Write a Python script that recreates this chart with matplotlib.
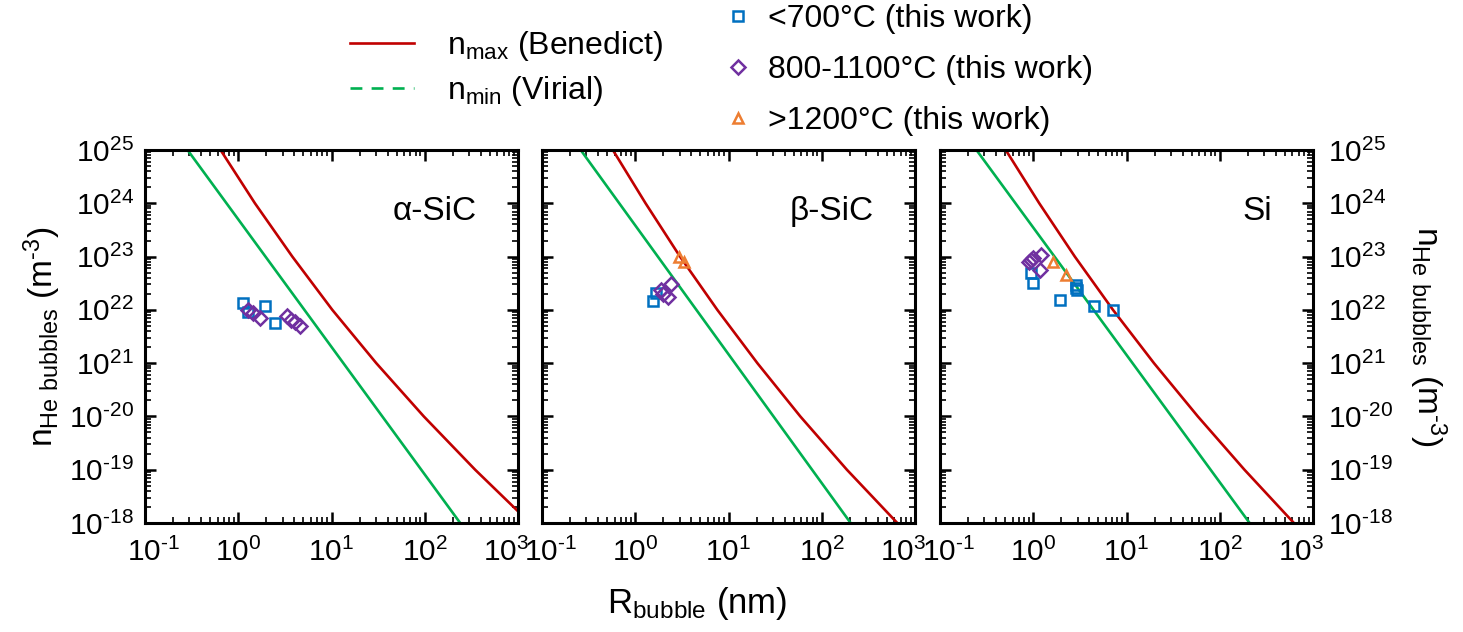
import numpy as np
import matplotlib
matplotlib.use('Agg')
import matplotlib.pyplot as plt
from matplotlib.lines import Line2D
from matplotlib.ticker import LogLocator, NullFormatter
from matplotlib.transforms import ScaledTranslation

plt.rcParams['font.family'] = ['Liberation Sans', 'DejaVu Sans']
plt.rcParams['mathtext.fontset'] = 'custom'
plt.rcParams['mathtext.rm'] = 'Liberation Sans'
plt.rcParams['mathtext.default'] = 'regular'

HY = '\u2010'  # short hyphen for exponents

panels = ['α-SiC', 'β-SiC', 'Si']

# n_max (Benedict) curves: R (nm) at each decade of n
nmax_n = [1e25, 1e24, 1e23, 1e22, 1e21, 1e20, 1e19, 1e18]
nmax_R = {
    'α-SiC': [0.646, 1.51, 3.80, 10.2, 30.2, 97.7, 347, 1349],
    'β-SiC': [0.575, 1.29, 3.02, 7.59, 20.4, 58.9, 186, 646],
    'Si':    [0.507, 1.16, 2.79, 7.16, 19.7, 58.2, 184, 624],
}

# n_min (Virial) lines, end points at n = 1e25 and 1e18
nmin_n = [1e25, 1e18]
nmin_R = {
    'α-SiC': [0.286, 240],
    'β-SiC': [0.260, 204],
    'Si':    [0.246, 209],
}

# measured bubbles (this work)
low_R = {'α-SiC': [1.13, 1.94, 2.48, 1.28],
         'β-SiC': [1.54, 1.67],
         'Si':    [0.94, 0.99, 2.88, 2.92, 2.90, 1.94, 4.45, 7.21]}
low_n = {'α-SiC': [1.33e22, 1.17e22, 5.6e21, 9.3e21],
         'β-SiC': [1.45e22, 2.1e22],
         'Si':    [4.9e22, 3.2e22, 2.9e22, 2.4e22, 2.6e22, 1.55e22, 1.2e22, 1.0e22]}

mid_R = {'α-SiC': [1.28, 1.45, 1.71, 3.30, 3.65, 4.06, 4.58],
         'β-SiC': [1.89, 2.42, 2.22, 1.97],
         'Si':    [0.90, 0.99, 1.22, 1.17, 0.95]}
mid_n = {'α-SiC': [1.0e22, 8.9e21, 6.9e21, 7.8e21, 6.5e21, 5.8e21, 4.9e21],
         'β-SiC': [2.37e22, 3.1e22, 1.78e22, 1.95e22],
         'Si':    [7.9e22, 9.5e22, 1.05e23, 5.6e22, 8.7e22]}

high_R = {'α-SiC': [], 'β-SiC': [2.96, 3.34], 'Si': [1.62, 2.25]}
high_n = {'α-SiC': [], 'β-SiC': [1.0e23, 7.9e22], 'Si': [7.9e22, 4.6e22]}

xtick_pos = [0.1, 1, 10, 100, 1000]
xtick_labels = ['$10^{' + HY + '1}$', '$10^{0}$', '$10^{1}$', '$10^{2}$', '$10^{3}$']
ytick_pos = [1e25, 1e24, 1e23, 1e22, 1e21, 1e20, 1e19, 1e18]
ytick_labels = ['$10^{25}$', '$10^{24}$', '$10^{23}$', '$10^{22}$', '$10^{21}$',
                '$10^{' + HY + '20}$', '$10^{' + HY + '19}$', '$10^{' + HY + '18}$']
ylab = 'n$_{He\\ bubbles}$ (m$^{' + HY + '3}$)'

red = '#C00000'
green = '#00B050'
blue = '#0070C0'
purple = '#7030A0'
orange = '#ED7D31'

fig = plt.figure(figsize=(14.63, 6.32), dpi=100)
lefts = [145, 542, 940]
axes = []
for i, name in enumerate(panels):
    ax = fig.add_axes([lefts[i] / 1463, (632 - 523) / 632, 373 / 1463, 373 / 632])
    axes.append(ax)
    ax.plot(nmin_R[name], nmin_n, color=green, lw=1.9)
    ax.plot(nmax_R[name], nmax_n, color=red, lw=1.9)
    ms = dict(mfc='none', ms=7.5, mew=1.8, ls='none')
    ax.plot(low_R[name], low_n[name], marker='s', mec=blue, **ms)
    ax.plot(mid_R[name], mid_n[name], marker='D', mec=purple, **dict(ms, ms=6.8))
    ax.plot(high_R[name], high_n[name], marker='^', mec=orange, **ms)

    ax.set_xscale('log')
    ax.set_yscale('log')
    ax.set_xlim(0.1, 1000)
    ax.set_ylim(1e18, 1e25)
    ax.set_xticks(xtick_pos, xtick_labels)
    ax.xaxis.set_minor_locator(LogLocator(base=10, subs=np.arange(2, 10), numticks=20))
    ax.xaxis.set_minor_formatter(NullFormatter())
    ax.set_yticks(ytick_pos, ytick_labels)
    ax.yaxis.set_minor_locator(LogLocator(base=10, subs=np.arange(2, 10), numticks=20))
    ax.yaxis.set_minor_formatter(NullFormatter())
    ax.tick_params(which='both', direction='in', top=True, right=True, labelsize=21.5)
    ax.tick_params(which='major', length=8, width=1.8)
    ax.tick_params(which='minor', length=4, width=1.2)
    ax.tick_params(axis='x', pad=11)
    ax.tick_params(axis='y', pad=8)
    for s in ax.spines.values():
        s.set_linewidth(2.2)
    ax.text(0.89, 0.835, name, transform=ax.transAxes, ha='right', va='center',
            fontsize=24)
    if i != 0:
        ax.tick_params(labelleft=False)

    # nudge the end labels inward so neighbouring panels don't collide
    labs = ax.get_xticklabels()
    labs[0].set_transform(labs[0].get_transform() + ScaledTranslation(9 / 100, 0, fig.dpi_scale_trans))
    labs[-1].set_transform(labs[-1].get_transform() + ScaledTranslation(-12 / 100, 0, fig.dpi_scale_trans))

axes[2].tick_params(axis='y', labelright=True, pad=11)
axes[0].set_ylabel(ylab, fontsize=24, labelpad=4)
axes[2].yaxis.set_label_position('right')
axes[2].set_ylabel(ylab, fontsize=24, rotation=270, va='bottom', labelpad=10)
fig.text(697 / 1463, 1 - 603 / 632, 'R$_{bubble}$ (nm)', ha='center', va='center',
         fontsize=25)

# legends above the panels
line_handles = [Line2D([], [], color=red, lw=1.9),
                Line2D([], [], color=green, lw=1.9, ls=(0, (4.5, 3.5)))]
fig.legend(line_handles, ['n$_{max}$ (Benedict)', 'n$_{min}$ (Virial)'],
           loc='upper left', bbox_to_anchor=(350 / 1463, 1 - 29 / 632),
           frameon=False, fontsize=23, handlelength=2.0, handletextpad=1.05,
           labelspacing=0.35, borderpad=0, borderaxespad=0)

mark_handles = [Line2D([], [], marker='s', mec=blue, mfc='none', ms=7.5, mew=1.8, ls='none'),
                Line2D([], [], marker='D', mec=purple, mfc='none', ms=6.8, mew=1.8, ls='none'),
                Line2D([], [], marker='^', mec=orange, mfc='none', ms=7.5, mew=1.8, ls='none')]
fig.legend(mark_handles, ['<700°C (this work)', '800-1100°C (this work)', '>1200°C (this work)'],
           loc='upper left', bbox_to_anchor=(722 / 1463, 1 - 4 / 632),
           frameon=False, fontsize=23, handlelength=1.0, handletextpad=0.45,
           labelspacing=0.66, borderpad=0, borderaxespad=0)

fig.savefig('out.png', dpi=100)
